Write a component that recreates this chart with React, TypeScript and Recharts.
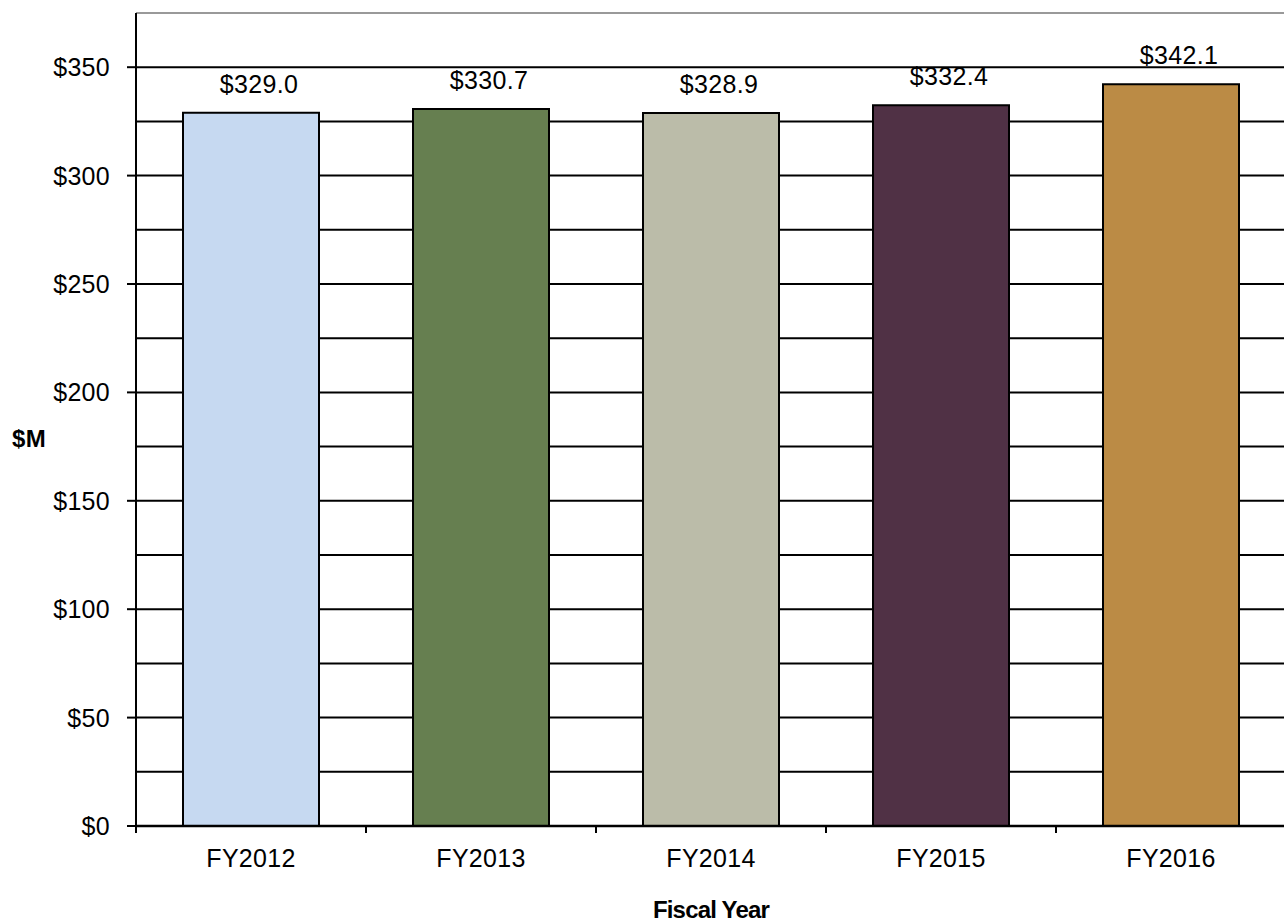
import { Bar, BarChart, CartesianGrid, Cell, LabelList, ReferenceLine, XAxis, YAxis } from "recharts"

// Annual funding, millions of dollars
const years = ["FY2012", "FY2013", "FY2014", "FY2015", "FY2016"]
const amounts = [329.0, 330.7, 328.9, 332.4, 342.1]
const barColors = ["#C6D9F1", "#667F50", "#BBBCA9", "#503145", "#BB8B45"]

const yTicks = [0, 25, 50, 75, 100, 125, 150, 175, 200, 225, 250, 275, 300, 325, 350]
const yMax = 375

const data = years.map((year, i) => ({ year, amount: amounts[i] }))

const CHART_W = 1300
const CHART_H = 924
const MARGIN_RIGHT = 14
const Y_AXIS_W = 136
const X_AXIS_H = 98
const BAND = (CHART_W - MARGIN_RIGHT - Y_AXIS_W) / years.length

const FONT = "'Liberation Sans', Arial, sans-serif"
const TEXT_SIZE = 25

const money = (v: number) => `$${v.toFixed(1)}`

function YTick(props: { x?: number; y?: number; payload?: { value: number } }) {
  const { x = 0, y = 0, payload } = props
  if (!payload || payload.value % 50 !== 0) return <g />
  return (
    <g>
      <line x1={x - 9} x2={x} y1={y} y2={y} stroke="#000" strokeWidth={2} />
      <text
        x={x - 26}
        y={y}
        dy="0.36em"
        textAnchor="end"
        fill="#000"
        fontFamily={FONT}
        fontSize={TEXT_SIZE}
        letterSpacing={0.3}
      >
        ${payload.value}
      </text>
    </g>
  )
}

// Category label centred in the band, tick marks on the band edges
function XTick(props: { x?: number; y?: number; payload?: { value: string } }) {
  const { x = 0, y = 0, payload } = props
  if (!payload) return null
  const left = x - BAND / 2
  return (
    <g>
      <line x1={left} x2={left} y1={y} y2={y + 7} stroke="#000" strokeWidth={2} />
      <text
        x={x}
        y={y + 41}
        textAnchor="middle"
        fill="#000"
        fontFamily={FONT}
        fontSize={TEXT_SIZE}
        letterSpacing={0.3}
      >
        {payload.value}
      </text>
    </g>
  )
}

type Box = { x?: number; y?: number; width?: number; height?: number }

function XTitle(props: { viewBox?: Box }) {
  const { x = 0, y = 0, width = 0, height = 0 } = props.viewBox ?? {}
  return (
    <text
      x={x + width / 2}
      y={y + height - 6}
      textAnchor="middle"
      fill="#000"
      fontFamily={FONT}
      fontWeight="bold"
      fontSize={24}
      letterSpacing={-0.8}
    >
      Fiscal Year
    </text>
  )
}

function YTitle(props: { viewBox?: Box }) {
  const { y = 0, height = 0 } = props.viewBox ?? {}
  return (
    <text
      x={12}
      y={y + height / 2 + 27}
      fill="#000"
      fontFamily={FONT}
      fontWeight="bold"
      fontSize={24}
      letterSpacing={0.5}
    >
      $M
    </text>
  )
}

export default function App() {
  return (
    <div
      style={{
        position: "absolute",
        left: 0,
        top: 0,
        width: 1284,
        height: 924,
        overflow: "hidden",
        background: "#fff",
      }}
    >
      <BarChart
        width={CHART_W}
        height={CHART_H}
        data={data}
        margin={{ top: 13, right: MARGIN_RIGHT, bottom: 0, left: 0 }}
      >
        <CartesianGrid vertical={false} stroke="#000" strokeWidth={2} />
        <ReferenceLine y={yMax} stroke="#999" strokeWidth={2} />
        <XAxis
          dataKey="year"
          height={X_AXIS_H}
          tickLine={false}
          tickSize={0}
          tickMargin={0}
          tick={<XTick />}
          axisLine={{ stroke: "#000", strokeWidth: 2.5 }}
          label={{ content: <XTitle /> }}
        />
        <YAxis
          type="number"
          width={Y_AXIS_W}
          domain={[0, yMax]}
          ticks={yTicks}
          interval={0}
          tickLine={false}
          tickSize={0}
          tickMargin={0}
          tick={<YTick />}
          axisLine={{ stroke: "#000", strokeWidth: 2 }}
          label={{ content: <YTitle /> }}
        />
        <Bar dataKey="amount" barSize={136} stroke="#000" strokeWidth={2} isAnimationActive={false}>
          {data.map((d, i) => (
            <Cell key={d.year} fill={barColors[i]} />
          ))}
          <LabelList
            dataKey="amount"
            position="top"
            offset={20}
            dx={8}
            formatter={(v: number) => money(v)}
            fill="#000"
            fontFamily={FONT}
            fontSize={TEXT_SIZE}
            letterSpacing={0.3}
          />
        </Bar>
      </BarChart>
    </div>
  )
}
